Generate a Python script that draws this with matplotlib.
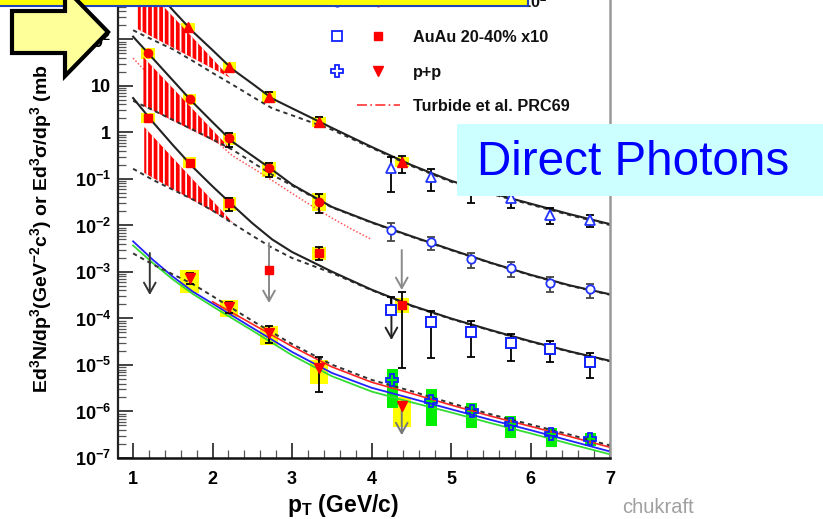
import numpy as np
import matplotlib
matplotlib.use('Agg')
import matplotlib.pyplot as plt
from matplotlib.lines import Line2D
from matplotlib.patches import Rectangle, Polygon
from matplotlib.ticker import FixedLocator, MultipleLocator, LogLocator, NullFormatter

plt.rcParams['font.family'] = ['Liberation Sans', 'DejaVu Sans']
plt.rcParams['mathtext.fontset'] = 'custom'
plt.rcParams['mathtext.rm'] = 'Liberation Sans'
plt.rcParams['mathtext.bf'] = 'Liberation Sans:bold'
plt.rcParams['mathtext.it'] = 'Liberation Sans:italic'
plt.rcParams['mathtext.sf'] = 'Liberation Sans'
plt.rcParams['hatch.linewidth'] = 1.3

# ---------------- data ----------------
x_ticks = [1, 2, 3, 4, 5, 6, 7]
x_tick_labels = ['1', '2', '3', '4', '5', '6', '7']
y_ticks = [1e-7, 1e-6, 1e-5, 1e-4, 1e-3, 1e-2, 1e-1, 1, 10, 100]
y_tick_labels = [r'$\mathbf{10^{-7}}$', r'$\mathbf{10^{-6}}$', r'$\mathbf{10^{-5}}$',
                 r'$\mathbf{10^{-4}}$', r'$\mathbf{10^{-3}}$', r'$\mathbf{10^{-2}}$',
                 r'$\mathbf{10^{-1}}$', '1', '10', r'$\mathbf{10^{2}}$']

# Row 1 (triangles)
r1_red_pt = [1.69, 2.21, 2.71, 3.34, 4.38]
r1_red_val = [186, 25.6, 5.8, 1.68, 0.232]
r1_red_elo = [186, 25.6, 4.5, 1.31, 0.135]
r1_red_ehi = [186, 25.6, 7.4, 2.15, 0.31]
r1_red_blo = [152, 20.0, 4.3, 1.31, 0.181]
r1_red_bhi = [226, 32.8, 7.8, 2.15, 0.297]
r1_blue_pt = [4.25, 4.75, 5.25, 5.75, 6.25, 6.75]
r1_blue_val = [0.172, 0.110, 0.063, 0.039, 0.0168, 0.0131]
r1_blue_elo = [0.0525, 0.0552, 0.030, 0.0238, 0.0108, 0.0093]
r1_blue_ehi = [0.297, 0.164, 0.11, 0.050, 0.0238, 0.0168]
r1_fit_pt = [1.35, 1.5, 1.75, 2.0, 2.25, 2.5, 2.75, 3.0, 3.5, 4.0, 4.5, 5.0, 5.5, 6.0, 6.5, 7.0]
r1_fit_val = [832, 427, 148, 58.9, 22.9, 11.2, 5.37, 3.31, 1.26, 0.490, 0.200, 0.0912,
              0.0501, 0.0295, 0.0174, 0.0107]
r1_dash_pt = [1.0, 1.25, 1.5, 1.75, 2.0, 2.25, 2.5, 2.75, 3.0, 3.5, 4.0, 4.5, 5.0, 5.5, 6.0, 6.5, 7.0]
r1_dash_val = [158, 97.7, 61.7, 34.7, 19.1, 10.7, 5.89, 3.31, 2.34, 1.15, 0.468, 0.191,
               0.0871, 0.0479, 0.0282, 0.0166, 0.0102]
r1_band_pt = [1.06, 2.22]
r1_band_hi = [2000, 15.1]
r1_band_lo = [166, 15.1]

# Row 2 (circles)
r2_red_pt = [1.19, 1.71, 2.21, 2.71, 3.34]
r2_red_val = [51.3, 5.25, 0.76, 0.173, 0.032]
r2_red_elo = [51.3, 5.25, 0.49, 0.11, 0.0186]
r2_red_ehi = [51.3, 5.25, 0.975, 0.22, 0.0475]
r2_red_blo = [38.1, 3.9, 0.54, 0.110, 0.0205]
r2_red_bhi = [65.6, 6.7, 0.975, 0.232, 0.050]
r2_blue_pt = [4.25, 4.75, 5.25, 5.75, 6.25, 6.75]
r2_blue_val = [0.0080, 0.0044, 0.0019, 0.00122, 0.00058, 0.00043]
r2_blue_elo = [0.00465, 0.00297, 0.00122, 0.00078, 0.00037, 0.00028]
r2_blue_ehi = [0.0113, 0.00566, 0.00256, 0.00164, 0.00078, 0.00055]
r2_fit_pt = [1.0, 1.25, 1.5, 1.75, 2.0, 2.25, 2.5, 2.75, 3.0, 3.5, 4.0, 4.5, 5.0, 5.5, 6.0, 6.5, 7.0]
r2_fit_val = [115, 38.9, 13.2, 4.47, 1.66, 0.631, 0.316, 0.158, 0.0759, 0.0251, 0.01175,
              0.00589, 0.00302, 0.00158, 0.000871, 0.000513, 0.000331]
r2_dash_pt = [1.0, 1.25, 1.5, 1.75, 2.0, 2.25, 2.5, 2.75, 3.0, 3.5, 4.0, 4.5, 5.0, 5.5, 6.0, 6.5, 7.0]
r2_dash_val = [4.79, 3.02, 1.86, 1.15, 0.708, 0.427, 0.229, 0.123, 0.0724, 0.0245, 0.0115,
               0.00575, 0.00295, 0.00155, 0.000851, 0.000501, 0.000324]
r2_turbide_pt = [1.0, 1.25, 1.5, 1.75, 2.0, 2.25, 2.5, 2.75, 3.0, 3.25, 3.5, 3.75, 4.0]
r2_turbide_val = [39.8, 13.8, 5.25, 2.00, 0.759, 0.316, 0.174, 0.0933, 0.0490, 0.0263,
                  0.0145, 0.00832, 0.00501]
r2_band_pt = [1.13, 2.24]
r2_band_hi = [41.7, 0.417]
r2_band_lo = [3.72, 0.417]

# Row 3 (squares, AuAu 20-40% x10)
r3_red_pt = [1.19, 1.71, 2.21, 3.34, 4.38]
r3_red_val = [2.05, 0.221, 0.0305, 0.00256, 0.000195]
r3_red_elo = [2.05, 0.221, 0.0205, 0.00181, 8.6e-6]
r3_red_ehi = [2.05, 0.221, 0.039, 0.00345, 3.72e-4]
r3_red_blo = [1.60, 0.173, 0.0205, 0.00181, 1.31e-4]
r3_red_bhi = [2.62, 0.297, 0.041, 0.00345, 2.76e-4]
r3_lim_pt = [2.71]
r3_lim_val = [0.0011]
r3_blue_pt = [4.25, 4.75, 5.25, 5.75, 6.25, 6.75]
r3_blue_val = [1.52e-4, 8.4e-5, 5.1e-5, 2.97e-5, 2.21e-5, 1.16e-5]
r3_blue_elo = [1.52e-4, 1.42e-5, 1.49e-5, 1.22e-5, 1.16e-5, 5.25e-6]
r3_blue_ehi = [2.9e-4, 1.45e-4, 8.8e-5, 4.64e-5, 3.28e-5, 1.81e-5]
r3_fit_pt = [1.0, 1.25, 1.5, 1.75, 2.0, 2.25, 2.5, 2.75, 3.0, 3.25, 3.5, 4.0, 4.5, 5.0,
             5.5, 6.0, 6.5, 7.0]
r3_fit_val = [5.50, 1.66, 0.537, 0.182, 0.0692, 0.0275, 0.0112, 0.00501, 0.00269, 0.00166,
              0.00102, 0.000417, 0.000191, 0.000100, 5.62e-5, 3.24e-5, 1.95e-5, 1.23e-5]
r3_dash_pt = [1.0, 1.25, 1.5, 1.75, 2.0, 2.25, 2.5, 2.75, 3.0, 3.25, 3.5, 4.0, 4.5, 5.0,
              5.5, 6.0, 6.5, 7.0]
r3_dash_val = [0.166, 0.0955, 0.0589, 0.0363, 0.0209, 0.0112, 0.00603, 0.00331, 0.00200,
               0.00138, 0.000955, 0.000407, 0.000186, 9.77e-5, 5.50e-5, 3.16e-5, 1.91e-5, 1.20e-5]
r3_band_pt = [1.14, 2.26]
r3_band_hi = [1.31, 0.0113]
r3_band_lo = [0.135, 0.0113]

# Row 4 (p+p)
pp_red_pt = [1.71, 2.21, 2.71, 3.34, 4.38]
pp_red_val = [7.4e-4, 1.77e-4, 4.9e-5, 8.6e-6, 1.31e-6]
pp_red_elo = [5.5e-4, 1.31e-4, 2.97e-5, 2.6e-6, 1.31e-6]
pp_red_ehi = [9.5e-4, 2.26e-4, 6.9e-5, 1.49e-5, 1.31e-6]
pp_red_blo = [3.5e-4, 1.08e-4, 2.7e-5, 3.9e-6, 4.6e-7]
pp_red_bhi = [1.1e-3, 2.5e-4, 6.9e-5, 1.28e-5, 2.05e-6]
pp_blue_pt = [4.26, 4.75, 5.26, 5.75, 6.26, 6.75]
pp_blue_val = [4.75e-6, 1.68e-6, 1.03e-6, 5.4e-7, 3.3e-7, 2.6e-7]
pp_blue_blo = [1.19e-6, 4.9e-7, 4.4e-7, 2.7e-7, 1.72e-7, 1.81e-7]
pp_blue_bhi = [8.2e-6, 3.05e-6, 1.52e-6, 8.0e-7, 4.4e-7, 3.45e-7]
pp_curve_pt = [1.0, 1.25, 1.5, 1.75, 2.0, 2.5, 3.0, 3.5, 4.0, 4.5, 5.0, 5.5, 6.0, 6.5, 7.0]
pp_blue_curve = [4.57e-3, 1.82e-3, 7.94e-4, 3.80e-4, 2.09e-4, 6.31e-5, 1.91e-5, 6.76e-6,
                 3.24e-6, 1.91e-6, 1.12e-6, 6.61e-7, 3.98e-7, 2.34e-7, 1.38e-7]
pp_green_curve = [3.72e-3, 1.55e-3, 6.92e-4, 3.39e-4, 1.82e-4, 5.50e-5, 1.62e-5, 5.75e-6,
                  2.69e-6, 1.58e-6, 9.55e-7, 5.62e-7, 3.39e-7, 2.00e-7, 1.20e-7]
pp_dash_curve = [2.51e-3, 1.45e-3, 8.91e-4, 5.50e-4, 3.02e-4, 8.91e-5, 2.82e-5, 1.02e-5,
                 4.79e-6, 2.75e-6, 1.51e-6, 8.71e-7, 5.25e-7, 3.16e-7, 1.86e-7]
pp_red_curve_pt = [2.0, 2.5, 3.0, 3.5, 4.0, 4.5, 5.0, 5.5, 6.0, 6.5, 7.0]
pp_red_curve = [2.29e-4, 7.59e-5, 2.51e-5, 9.12e-6, 4.27e-6, 2.45e-6, 1.38e-6, 7.94e-7,
                4.79e-7, 2.88e-7, 1.70e-7]

# upper-limit arrows: pt, start, end, colour
arrow_pt = [1.21, 2.71, 4.25, 4.38, 4.38]
arrow_top = [2.56e-3, 4.2e-3, 2.9e-4, 2.97e-3, 1.31e-6]
arrow_bot = [3.2e-4, 2.15e-4, 3.45e-5, 4.1e-4, 3.1e-7]
arrow_col = ['#333333', '#888888', '#222222', '#8a8a8a', '#777777']

legend_labels = [r'AuAu 0-20% x10$^{\mathbf{2}}$', 'AuAu 20-40% x10', 'p+p', 'Turbide et al. PRC69']

# ---------------- figure ----------------
W, H = 823, 519
fig = plt.figure(figsize=(W / 100, H / 100), dpi=100)
ax = fig.add_axes([118 / W, 1 - 458 / H, (610 - 118) / W, 458 / H])
ax.set_yscale('log')
ax.set_xlim(0.81, 7.0)
ax.set_ylim(1e-7, 10 ** 2.849)


def fpt(px, py):
    return (px / W, 1 - py / H)


def boxes(pt, lo, hi, width, color):
    lo = np.asarray(lo); hi = np.asarray(hi)
    ax.bar(pt, hi - lo, bottom=lo, width=width, color=color, linewidth=0, zorder=1)


def errs(pt, val, lo, hi, color='black'):
    pt = np.asarray(pt); val = np.asarray(val); lo = np.asarray(lo); hi = np.asarray(hi)
    m = hi > lo
    if m.any():
        ax.errorbar(pt[m], val[m], yerr=[val[m] - lo[m], hi[m] - val[m]], fmt='none',
                    ecolor=color, elinewidth=1.3, capsize=2.6, capthick=1.3, zorder=3)


# systematic boxes
boxes(r1_red_pt, r1_red_blo, r1_red_bhi, 0.17, '#FFFF00')
boxes(r2_red_pt, r2_red_blo, r2_red_bhi, 0.17, '#FFFF00')
boxes(r3_red_pt, r3_red_blo, r3_red_bhi, 0.17, '#FFFF00')
boxes(pp_red_pt, pp_red_blo, pp_red_bhi, 0.23, '#FFFF00')
boxes(pp_blue_pt, pp_blue_blo, pp_blue_bhi, 0.14, '#00EE00')

# hatched bands
for bp, blo, bhi in [(r1_band_pt, r1_band_lo, r1_band_hi),
                     (r2_band_pt, r2_band_lo, r2_band_hi),
                     (r3_band_pt, r3_band_lo, r3_band_hi)]:
    ax.fill_between(bp, blo, bhi, facecolor='#FF0000', edgecolor='white', hatch='|||',
                    linewidth=0, zorder=1.6)

# theory curves
ax.plot(r2_turbide_pt, r2_turbide_val, color='#FF5555', lw=1.1, ls=(0, (1, 1.3)), zorder=1.4)
dash = (0, (2.2, 2.0))
for p, v in [(r1_dash_pt, r1_dash_val), (r2_dash_pt, r2_dash_val), (r3_dash_pt, r3_dash_val)]:
    ax.plot(p, v, color='#333333', lw=1.4, ls=dash, zorder=2)
ax.plot(pp_curve_pt, pp_green_curve, color='#33DD33', lw=1.3, zorder=2)
ax.plot(pp_curve_pt, pp_blue_curve, color='#2222FF', lw=1.3, zorder=2.1)
ax.plot(pp_red_curve_pt, pp_red_curve, color='#FF2222', lw=1.2, zorder=2.2)
ax.plot(pp_curve_pt, pp_dash_curve, color='#333333', lw=1.4, ls=dash, zorder=2.3)
for p, v in [(r1_fit_pt, r1_fit_val), (r2_fit_pt, r2_fit_val), (r3_fit_pt, r3_fit_val)]:
    ax.plot(p, v, color='#222222', lw=1.5, zorder=2.4)

# arrows (upper limits)
for xp, yt, yb, c in zip(arrow_pt, arrow_top, arrow_bot, arrow_col):
    ax.annotate('', xy=(xp, yb), xytext=(xp, yt),
                arrowprops=dict(arrowstyle='->,head_length=0.75,head_width=0.42', color=c,
                                lw=1.4, shrinkA=0, shrinkB=0, mutation_scale=10), zorder=3)

# error bars
errs(r1_red_pt, r1_red_val, r1_red_elo, r1_red_ehi)
errs(r1_blue_pt, r1_blue_val, r1_blue_elo, r1_blue_ehi)
errs(r2_red_pt, r2_red_val, r2_red_elo, r2_red_ehi)
errs(r2_blue_pt, r2_blue_val, r2_blue_elo, r2_blue_ehi, '#444444')
errs(r3_red_pt, r3_red_val, r3_red_elo, r3_red_ehi)
errs(r3_blue_pt, r3_blue_val, r3_blue_elo, r3_blue_ehi)
errs(pp_red_pt, pp_red_val, pp_red_elo, pp_red_ehi)

# markers
ax.plot(r1_red_pt, r1_red_val, ls='none', marker='^', ms=6.5, color='#FF0000', mec='#FF0000', zorder=4)
ax.plot(r1_blue_pt, r1_blue_val, ls='none', marker='^', ms=6.5, mfc='white', mec='#2233FF', mew=1.3, zorder=4)
ax.plot(r2_red_pt, r2_red_val, ls='none', marker='o', ms=6, color='#FF0000', zorder=4)
ax.plot(r2_blue_pt, r2_blue_val, ls='none', marker='o', ms=6, mfc='white', mec='#2233FF', mew=1.3, zorder=4)
ax.plot(r3_red_pt, r3_red_val, ls='none', marker='s', ms=5.5, color='#FF0000', zorder=4)
ax.plot(r3_lim_pt, r3_lim_val, ls='none', marker='s', ms=5.5, color='#FF0000', zorder=4)
ax.plot(r3_blue_pt, r3_blue_val, ls='none', marker='s', ms=6.5, mfc='white', mec='#1122FF', mew=1.4, zorder=4)
ax.plot(pp_red_pt, pp_red_val, ls='none', marker='v', ms=6.5, color='#FF0000', zorder=4)
ax.plot(pp_blue_pt, pp_blue_val, ls='none', marker='P', ms=8, mfc='none', mec='#1122FF', mew=1.3, zorder=4)

# axes styling
ax.xaxis.set_major_locator(FixedLocator(x_ticks))
ax.set_xticklabels(x_tick_labels, fontsize=13, fontweight='bold')
ax.xaxis.set_minor_locator(MultipleLocator(0.2))
ax.yaxis.set_major_locator(FixedLocator(y_ticks))
ax.set_yticklabels(y_tick_labels, fontsize=13, fontweight='bold')
ax.yaxis.set_minor_locator(LogLocator(base=10, subs=np.arange(2, 10), numticks=30))
ax.yaxis.set_minor_formatter(NullFormatter())
ax.tick_params(axis='both', which='major', direction='in', length=11, width=1.3, color='#333333')
ax.tick_params(axis='both', which='minor', direction='in', length=5.5, width=0.9, color='#555555')
ax.tick_params(axis='x', which='both', top=False, pad=9)
ax.tick_params(axis='y', which='both', right=False, pad=5)
ax.spines['top'].set_visible(False)
ax.spines['left'].set_linewidth(1.6)
ax.spines['left'].set_color('#222222')
ax.spines['bottom'].set_linewidth(1.8)
ax.spines['bottom'].set_color('#111111')
ax.spines['right'].set_linewidth(1.8)
ax.spines['right'].set_color('#999999')

# axis labels
fig.text(*fpt(343, 512), r'$\mathbf{p_{T}}$ (GeV/c)', fontsize=16.5, fontweight='bold',
         ha='center', va='baseline')
fig.text(*fpt(41, 393),
         r'$\mathbf{Ed^{3}N/dp^{3}(GeV^{-2}c^{3})\ or\ Ed^{3}\sigma/dp^{3}\ (mb}$',
         fontsize=14, rotation=90, ha='center', va='bottom')

# legend (manual, figure coordinates)
leg_y = [2, 36, 71, 105]
blue_markers = [('o', 6), ('s', 6.5), ('P', 8)]
red_markers = [('o', 6), ('s', 5.5), ('v', 6.5)]
for i in range(3):
    fig.add_artist(Line2D([337 / W], [1 - leg_y[i] / H], marker=blue_markers[i][0],
                          ms=blue_markers[i][1], mfc='white', mec='#1122FF', mew=1.3, ls='none'))
    fig.add_artist(Line2D([378 / W], [1 - leg_y[i] / H], marker=red_markers[i][0],
                          ms=red_markers[i][1], color='#FF0000', ls='none'))
fig.add_artist(Line2D([357 / W, 400 / W], [1 - 105 / H] * 2, color='#FF3333', lw=1.2,
                      ls=(0, (6, 2, 1, 2))))
for i, lab in enumerate(legend_labels):
    fig.text(*fpt(413, leg_y[i] + 6), lab, fontsize=11.7, fontweight='bold', ha='left',
             va='baseline', color='#111111')

# overlays
fig.add_artist(Rectangle(fpt(457, 196), (W - 457) / W, (196 - 124) / H, transform=fig.transFigure,
                         facecolor='#CCFFFF', edgecolor='none', zorder=5))
fig.text(*fpt(477, 175), 'Direct Photons', fontsize=34.3, color='#0000FF', ha='left',
         va='baseline', zorder=6)
fig.add_artist(Rectangle(fpt(-2, 6), 530 / W, 10 / H, transform=fig.transFigure,
                         facecolor='#FFFF00', edgecolor='#2244BB', lw=1.5, zorder=10))
arrow_px = [(12, 11), (65, 11), (65, -12), (108, 32), (65, 76), (65, 53), (12, 53)]
fig.add_artist(Polygon([fpt(a, b) for a, b in arrow_px], closed=True, transform=fig.transFigure,
                       facecolor='#FFFF99', edgecolor='black', lw=3.0, joinstyle='miter', zorder=10))
fig.text(*fpt(622, 513), 'chukraft', fontsize=14.5, color='#A0A0A0', ha='left', va='baseline')

fig.savefig('out.png', dpi=100)
